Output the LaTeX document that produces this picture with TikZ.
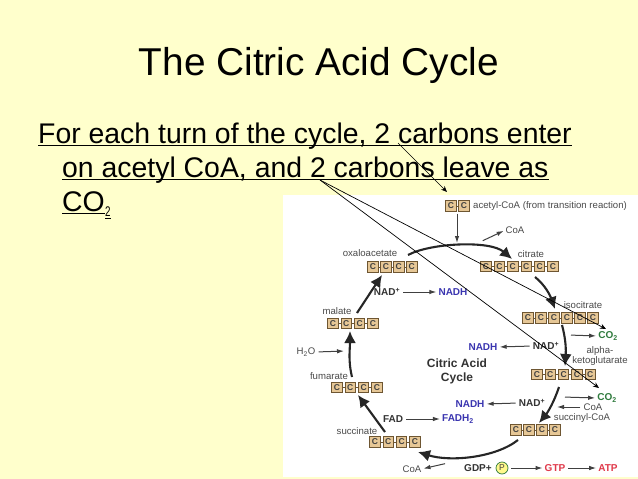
\documentclass[tikz,border=0pt]{standalone}
\usepackage{fontspec}
\setmainfont{Liberation Sans}
\usetikzlibrary{arrows.meta,calc}
\definecolor{slidebg}{HTML}{FFFFCC}
\definecolor{boxfill}{HTML}{E6C796}
\definecolor{boxedge}{HTML}{6E5632}
\definecolor{lab}{HTML}{4A4A4A}
\definecolor{nadblue}{HTML}{3A35B0}
\definecolor{cogreen}{HTML}{2E7A3C}
\definecolor{atpred}{HTML}{E0394A}
\tikzset{
  x=1pt,y=-1pt,
  cbox/.style={draw=boxedge,line width=0.9pt,fill=boxfill,minimum width=10.5pt,minimum height=10.5pt,inner sep=0pt,font=\fontsize{8.5}{8.5}\selectfont\bfseries,text=black!75},
  lab/.style={inner sep=0pt,font=\fontsize{9.6}{10}\selectfont,text=lab},
  bold/.style={inner sep=0pt,font=\fontsize{10}{10}\selectfont\bfseries,text=black!80},
  blue/.style={bold,text=nadblue},
  green/.style={bold,text=cogreen},
  red/.style={bold,text=atpred},
  big/.style={inner sep=0pt,anchor=base west,font=\fontsize{28.4}{30}\selectfont,text=black},
  cyc/.style={line width=2.1pt,black!85,-{Latex[length=12pt,width=12pt]}},
  thin/.style={line width=1pt,black!75,shorten >=2pt,shorten <=3pt,-{Latex[length=7pt,width=4.5pt]}},
  call/.style={line width=0.7pt,black,-{Stealth[length=6pt,width=5pt]}},
  uline/.style={line width=0.9pt,black}
}
% \chain{name}{first x}{y}{count}{pitch}
\newcommand{\chain}[5]{%
  \foreach \i in {1,...,#4}{\node[cbox] (#1\i) at ({#2+(\i-1)*#5},#3) {C};}
  \foreach \i [remember=\i as \j (initially 1)] in {2,...,#4}{\draw[boxedge,line width=0.8pt] (#1\j) -- (#1\i);}
}
\begin{document}
\begin{tikzpicture}
\useasboundingbox (0,0) rectangle (638,479);
\fill[slidebg] (0,0) rectangle (638,479);
\fill[white] (283,195) rectangle (638,477);

\node[inner sep=0pt,anchor=base,font=\fontsize{38.8}{40}\selectfont] (title) at (319,75) {The Citric Acid Cycle};
\node[big] (l1) at (38,143) {For each turn of the cycle, 2 carbons enter};
\node[big] (l2) at (62,177.5) {on acetyl CoA, and 2 carbons leave as};
\node[big] (l3) at (62,211.5) {CO};
\node[inner sep=0pt,anchor=base west,font=\fontsize{14}{14}\selectfont] (l3s) at (l3.base east) [yshift=-5pt] {\scalebox{0.7}[1]{2}};
\draw[uline] ($(l1.base west)+(0,2)$) -- ($(l1.base east)+(0,2)$);
\draw[uline] ($(l2.base west)+(0,2)$) -- ($(l2.base east)+(0,2)$);
\draw[uline] ($(l3.base west)+(0,2)$) -- ($(l3.base east)+(0,2)$);
\draw[uline] ($(l3s.base west)+(0,2)$) -- ($(l3s.base east)+(0,2)$);

\chain{ac}{451}{206}{2}{13}
\chain{cit}{486}{266.5}{6}{13.4}
\chain{iso}{528}{318}{6}{13}
\chain{alp}{537}{374.5}{5}{13.3}
\chain{suc}{516}{430}{4}{13}
\chain{sn}{375}{442}{4}{13.3}
\chain{fum}{337}{387.5}{4}{13.3}
\chain{mal}{333}{323.5}{4}{13.3}
\chain{oxa}{373}{267}{4}{12.9}

\node[lab,anchor=west] (tac) at (473,206) {acetyl-CoA (from transition reaction)};
\node[lab] (toxa) at (370,253.5) {oxaloacetate};
\node[lab] (tmal) at (337,311) {malate};
\node[lab] (tfum) at (329,376) {fumarate};
\node[lab] (tsn) at (357,431) {succinate};
\node[lab] (tcit) at (531,254) {citrate};
\node[lab] (tiso) at (583,305) {isocitrate};
\node[lab] (talp1) at (600,351) {alpha-};
\node[lab] (talp2) at (600,361) {ketoglutarate};
\node[lab] (tscoa) at (582,418) {succinyl-CoA};
\node[lab] (coa1) at (515,230) {CoA};
\node[lab] (coa2) at (593,407) {CoA};
\node[lab] (coa3) at (412,469) {CoA};
\node[lab] (h2o) at (306,352) {H\textsubscript{2}O};
\node[bold,align=center,font=\fontsize{12}{14}\selectfont\bfseries] (cac) at (457,371) {Citric Acid\\Cycle};

\node[bold] (nad1) at (387,292) {NAD\textsuperscript{+}};
\node[blue] (nadh1) at (453,292) {NADH};
\node[bold] (nad2) at (546,346) {NAD\textsuperscript{+}};
\node[blue] (nadh2) at (483,347) {NADH};
\node[bold] (nad3) at (532,403) {NAD\textsuperscript{+}};
\node[blue] (nadh3) at (470,404) {NADH};
\node[bold] (fad) at (393,419) {FAD};
\node[blue] (fadh) at (458,419) {FADH\textsubscript{2}};
\node[green] (co21) at (608,336) {CO\textsubscript{2}};
\node[green] (co22) at (607,398) {CO\textsubscript{2}};
\node[bold] (gdp) at (478,468) {GDP+};
\node[draw=cogreen,fill=yellow!45,circle,line width=0.7pt,inner sep=0pt,minimum size=12pt,font=\fontsize{8.5}{8.5}\selectfont,text=black!75] (pi) at (502,468) {P};
\node[red] (gtp) at (555,468) {GTP};
\node[red] (atp) at (608,468) {ATP};

\coordinate (joinac) at (457,243);
\draw[line width=1pt,black!75,shorten <=2pt,-{Latex[length=7pt,width=4.5pt]}] (ac1.south -| joinac) -- (joinac);
\coordinate (coa1s) at (480,242);
\draw[thin] (coa1s) -- (coa1.west);
\draw[thin] (nad1.east) -- (nadh1.west);
\draw[thin] (nad2.west) -- (nadh2.east);
\draw[thin] (nad3.west) -- (nadh3.east);
\draw[thin] (fad.east) -- (fadh.west);
\coordinate (h2oe) at (346,351);
\draw[thin] (h2o.east) -- (h2oe);
\coordinate (co1s) at (568,335);
\coordinate (co2s) at (562,397);
\coordinate (coa2e) at (555,407);
\coordinate (coa3s) at (448,463);
\draw[thin] (co1s) -- (co21.west);
\draw[thin] (co2s) -- (co22.west);
\draw[thin] (coa2.west) -- (coa2e);
\draw[thin] (coa3s) -- (coa3.east);
\draw[thin] (pi.east) -- (gtp.west);
\draw[thin] (gtp.east) -- (atp.west);

\coordinate (a1) at (408,255);
\coordinate (a2) at (512,259);
\coordinate (b1) at (535,277);
\coordinate (b2) at (555,309);
\coordinate (c1) at (562,325);
\coordinate (c2) at (565,366);
\coordinate (d1) at (559,387);
\coordinate (d2) at (539,423);
\coordinate (e1) at (518,440);
\coordinate (e2) at (418,452);
\coordinate (f1) at (385,432);
\coordinate (f2) at (358,395);
\coordinate (g1) at (352,377);
\coordinate (g2) at (350,331);
\coordinate (h1) at (357,313);
\coordinate (h2) at (382,275);
\draw[cyc] (a1) .. controls (430,243) and (490,240) .. (a2);
\draw[cyc] (b1) .. controls (545,285) and (550,295) .. (b2);
\draw[cyc] (c1) .. controls (566,340) and (566,350) .. (c2);
\draw[cyc] (d1) .. controls (554,402) and (548,412) .. (d2);
\draw[cyc] (e1) .. controls (495,458) and (450,462) .. (e2);
\draw[cyc] (f1) -- (f2);
\draw[cyc] (g1) .. controls (348,360) and (350,350) .. (g2);
\draw[cyc] (h1) -- (h2);

\coordinate (cs1) at (398,143);
\coordinate (ce1) at (447,192);
\coordinate (cs2) at (320,180);
\coordinate (ce2) at (606,329);
\coordinate (ce3) at (599,388);
\draw[call] (cs1) -- (ce1);
\draw[call] (cs2) -- (ce2);
\draw[call] (cs2) -- (ce3);
\end{tikzpicture}
\end{document}
